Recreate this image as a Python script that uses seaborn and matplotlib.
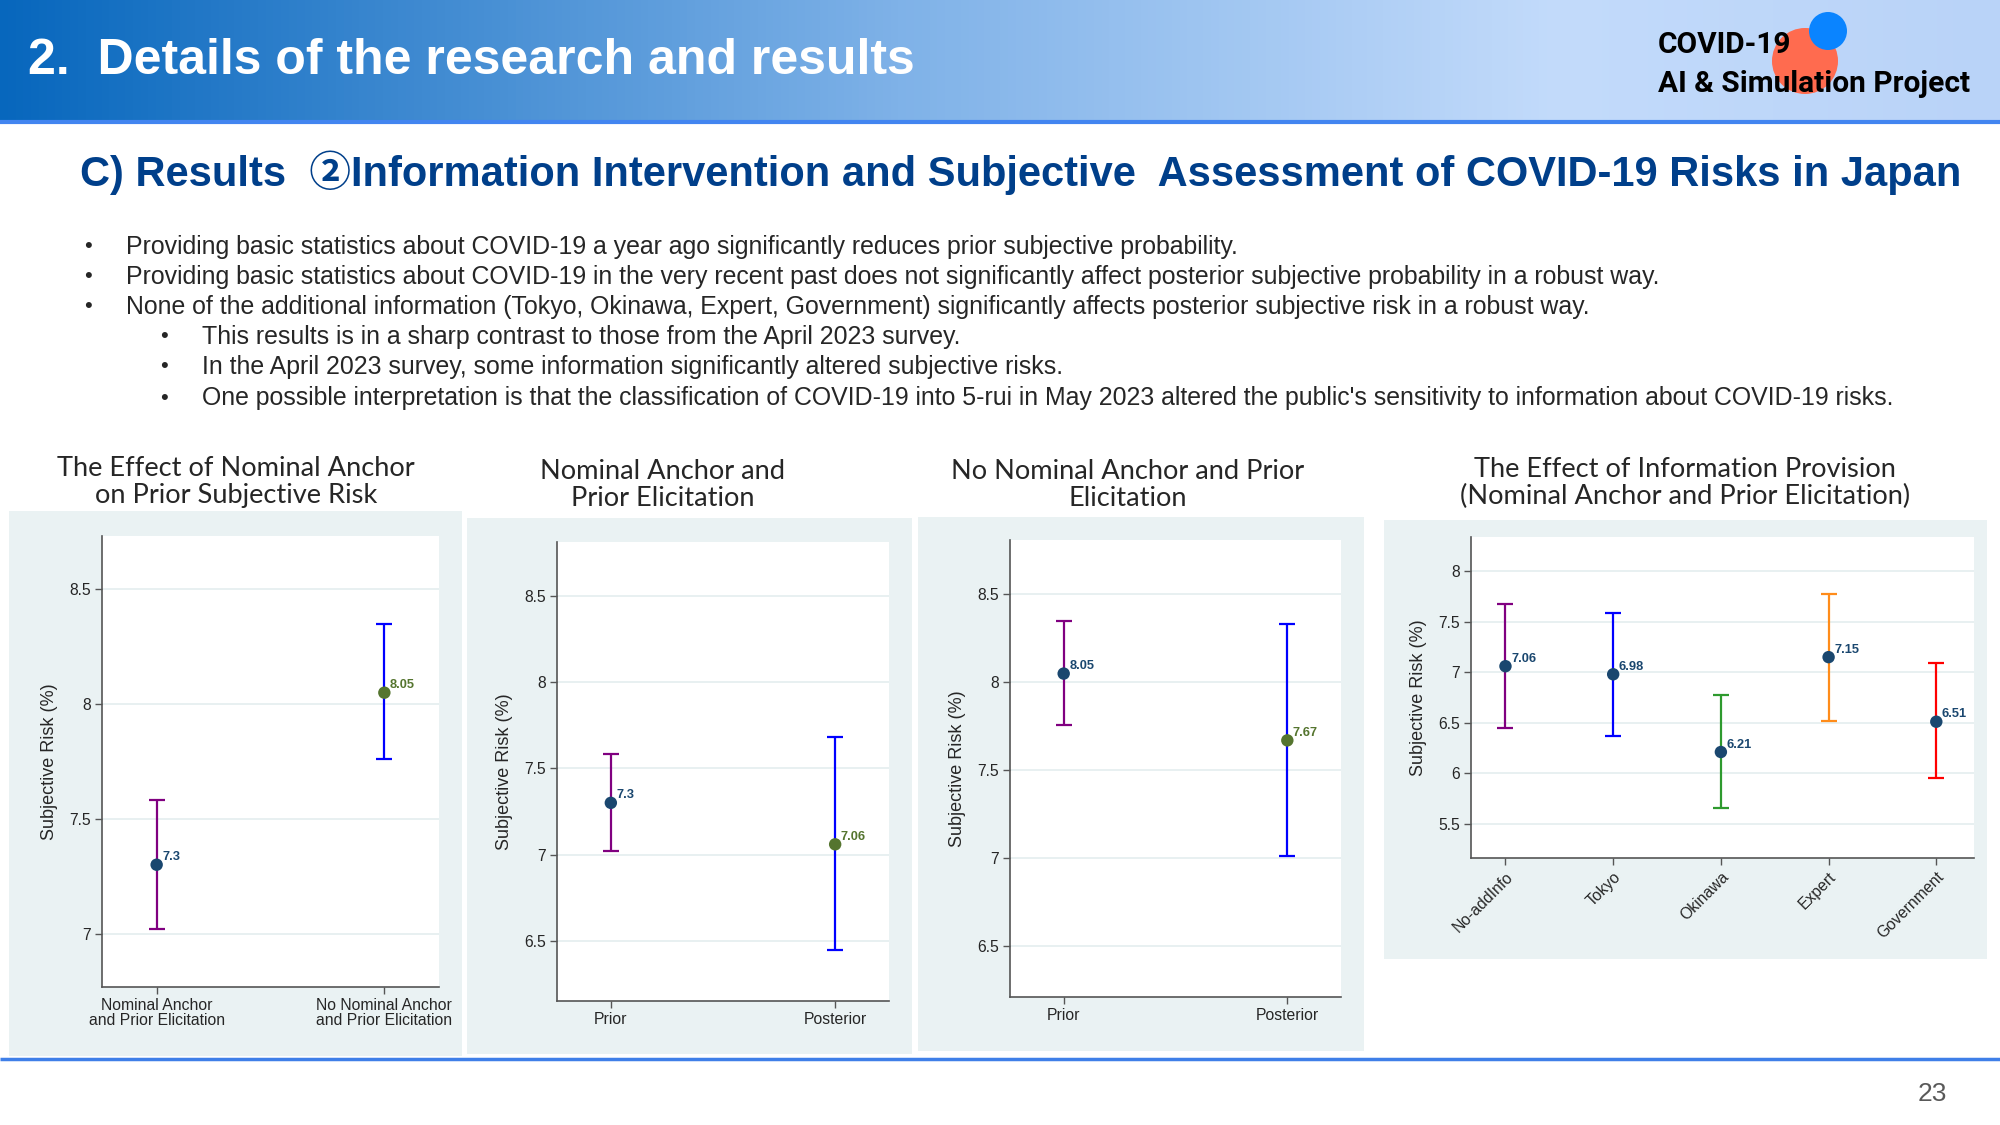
import numpy as np
import pandas as pd
import seaborn as sns
import matplotlib.pyplot as plt
from matplotlib.colors import LinearSegmentedColormap
from matplotlib.patches import Rectangle, Circle
from matplotlib.ticker import FuncFormatter, MultipleLocator

# ---- data ----
anchor_groups = ["Nominal Anchor\nand Prior Elicitation", "No Nominal Anchor\nand Prior Elicitation"]
anchor_mean = [7.30, 8.05]
anchor_lo = [7.02, 7.76]
anchor_hi = [7.58, 8.35]

pp_groups = ["Prior", "Posterior"]
nominal_mean = [7.30, 7.06]
nominal_lo = [7.02, 6.45]
nominal_hi = [7.58, 7.68]

no_nominal_mean = [8.05, 7.67]
no_nominal_lo = [7.76, 7.01]
no_nominal_hi = [8.35, 8.33]

info_groups = ["No-addInfo", "Tokyo", "Okinawa", "Expert", "Government"]
info_mean = [7.06, 6.98, 6.21, 7.15, 6.51]
info_lo = [6.45, 6.37, 5.66, 6.52, 5.95]
info_hi = [7.68, 7.59, 6.77, 7.78, 7.09]

bullets = [
    "Providing basic statistics about COVID-19 a year ago significantly reduces prior subjective probability.",
    "Providing basic statistics about COVID-19 in the very recent past does not significantly affect posterior subjective probability in a robust way.",
    "None of the additional information (Tokyo, Okinawa, Expert, Government) significantly affects posterior subjective risk in a robust way.",
]
sub_bullets = [
    "This results is in a sharp contrast to those from the April 2023 survey.",
    "In the April 2023 survey, some information significantly altered subjective risks.",
    "One possible interpretation is that the classification of COVID-19 into 5-rui in May 2023 altered the public's sensitivity to information about COVID-19 risks.",
]

NAVY = "#1a476f"
OLIVE = "#55752f"
PURPLE = "#800080"
BLUE = "#0000ff"
STATA_BG = "#eaf2f3"

sns.set_theme(style="white")
plt.rcParams['font.family'] = ['Liberation Sans', 'Noto Sans CJK JP', 'DejaVu Sans']

W, H = 2000, 1125
fig = plt.figure(figsize=(20, 11.25), dpi=100, facecolor="white")

# background layer in pixel coordinates
bg = fig.add_axes([0, 0, 1, 1], zorder=0)
grad = LinearSegmentedColormap.from_list(
    "hdr", [(0, "#0767bd"), (0.45, "#7fb2e8"), (0.78, "#c3dbfb"), (1, "#b9d3f8")])
bg.imshow(np.linspace(0, 1, 512)[None, :], cmap=grad, extent=(0, W, 120, 0), aspect="auto")
bg.set_xlim(0, W)
bg.set_ylim(H, 0)
bg.axis("off")
bg.plot([0, W], [122, 122], color="#4285f0", lw=3, solid_capstyle="butt")
bg.plot([0, W], [1059, 1059], color="#3f7fe8", lw=2.5, solid_capstyle="butt")

bg.add_patch(Circle((1805, 61), 33, color="#ff6b4f", lw=0))
bg.add_patch(Circle((1828, 31), 19, color="#0a84ff", lw=0))
bg.text(1658, 45, "COVID-19", fontsize=21.5, fontweight="bold", family="Roboto", va="center", color="black")
bg.text(1658, 84, "AI & Simulation Project", fontsize=21.5, fontweight="bold", family="Roboto", va="center", color="black")

bg.text(28, 61, "2.  Details of the research and results", fontsize=36, fontweight="bold",
        color="white", va="center")
bg.text(80, 173, "C) Results  ②Information Intervention and Subjective  Assessment of COVID-19 Risks in Japan",
        fontsize=30, fontweight="bold", color="#003f8a", va="center")

ys = [247, 277, 307]
for y, t in zip(ys, bullets):
    bg.text(84, y, "•", fontsize=16, va="center")
    bg.text(126, y, t, fontsize=17.9, va="center")
ys = [337, 367, 398]
for y, t in zip(ys, sub_bullets):
    bg.text(160, y, "•", fontsize=16, va="center")
    bg.text(202, y, t, fontsize=17.9, va="center")

bg.text(1932, 1094, "23", fontsize=19, color="#595959", ha="center", va="center")

# panel backgrounds and titles
panel_bg = [(9, 511, 462, 1056), (467, 518, 912, 1054), (918, 517, 1364, 1051), (1384, 520, 1987, 959)]
for x0, y0, x1, y1 in panel_bg:
    bg.add_patch(Rectangle((x0, y0), x1 - x0, y1 - y0, color=STATA_BG, lw=0))

titles = [
    (236, 482, "The Effect of Nominal Anchor\non Prior Subjective Risk"),
    (663, 485, "Nominal Anchor and\nPrior Elicitation"),
    (1128, 485, "No Nominal Anchor and Prior\nElicitation"),
    (1685, 483, "The Effect of Information Provision\n(Nominal Anchor and Prior Elicitation)"),
]
for x, y, t in titles:
    bg.text(x, y, t, fontsize=19.6, family="Lato", ha="center", va="center", linespacing=1.1)


def panel(rect, groups, mean, lo, hi, bar_colors, dot_colors, ylim, xlim, rot=0):
    x0, y0, x1, y1 = rect
    ax = fig.add_axes([x0 / W, 1 - y1 / H, (x1 - x0) / W, (y1 - y0) / H], zorder=2)
    ax.set_facecolor("white")
    pos = np.arange(len(groups))
    for p, m, l, h, c in zip(pos, mean, lo, hi, bar_colors):
        ax.errorbar(p, m, yerr=[[m - l], [h - m]], fmt="none", ecolor=c,
                    elinewidth=1.6, capsize=6, capthick=1.6, zorder=2)
    df = pd.DataFrame({"pos": pos, "mean": mean, "group": groups})
    sns.scatterplot(data=df, x="pos", y="mean", hue="group",
                    palette=dict(zip(groups, dot_colors)), s=80, linewidth=0,
                    legend=False, ax=ax, zorder=3)
    for p, m, c in zip(pos, mean, dot_colors):
        ax.annotate(f"{m:g}", (p, m), xytext=(4, 1), textcoords="offset points",
                    ha="left", va="bottom", fontsize=9.3, fontweight="bold", color=c)
    ax.set_xlim(*xlim)
    ax.set_ylim(*ylim)
    ax.yaxis.set_major_locator(MultipleLocator(0.5))
    ax.yaxis.set_major_formatter(FuncFormatter(lambda v, _: f"{v:g}"))
    ax.yaxis.grid(True, color="#e4edef", lw=1.2)
    ax.set_axisbelow(True)
    ax.set_xticks(pos)
    if rot:
        ax.set_xticklabels(groups, rotation=rot, ha="right", rotation_mode="anchor")
    else:
        ax.set_xticklabels(groups, linespacing=0.95)
    ax.set_xlabel("")
    ax.set_ylabel("Subjective Risk (%)", fontsize=13, labelpad=8)
    for s in ["top", "right"]:
        ax.spines[s].set_visible(False)
    for s in ["left", "bottom"]:
        ax.spines[s].set_color("#555555")
        ax.spines[s].set_linewidth(1.2)
    ax.tick_params(axis="both", direction="out", length=5, width=1, color="#555555",
                   labelsize=11.3, bottom=True, left=True, pad=3)
    return ax


panel((102, 536, 439, 987), anchor_groups, anchor_mean, anchor_lo, anchor_hi,
      [PURPLE, BLUE], [NAVY, OLIVE], (6.767, 8.733), (-0.24, 1.24))
panel((557, 542, 889, 1001), pp_groups, nominal_mean, nominal_lo, nominal_hi,
      [PURPLE, BLUE], [NAVY, OLIVE], (6.153, 8.81), (-0.24, 1.24))
panel((1010, 540, 1341, 997), pp_groups, no_nominal_mean, no_nominal_lo, no_nominal_hi,
      [PURPLE, BLUE], [NAVY, OLIVE], (6.21, 8.81), (-0.24, 1.24))
panel((1471, 537, 1974, 858), info_groups, info_mean, info_lo, info_hi,
      [PURPLE, BLUE, "#2e9a2e", "#ff8c1a", "#ff0000"], [NAVY] * 5,
      (5.16, 8.34), (-0.32, 4.35), rot=45)

fig.savefig("out.png", dpi=100, facecolor="white")
